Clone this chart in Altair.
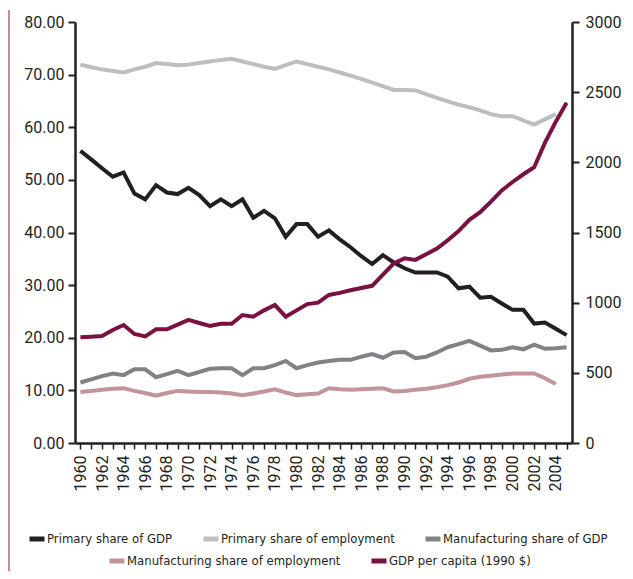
import altair as alt
import pandas as pd

years = list(range(1960, 2006))

primary_gdp = [55.5, 53.9, 52.2, 50.6, 51.4, 47.4, 46.3, 49.0, 47.6, 47.3,
               48.5, 47.1, 45.0, 46.3, 45.0, 46.3, 42.8, 44.1, 42.7, 39.2,
               41.6, 41.6, 39.2, 40.4, 38.7, 37.2, 35.5, 34.0, 35.7, 34.3,
               33.2, 32.4, 32.4, 32.4, 31.6, 29.4, 29.7, 27.6, 27.8, 26.5,
               25.3, 25.3, 22.7, 22.9, 21.7, 20.5]

primary_emp = [71.9, 71.4, 71.0, 70.7, 70.4, 71.0, 71.5, 72.2, 72.0, 71.8,
               71.9, 72.2, 72.5, 72.8, 73.0, 72.5, 72.0, 71.5, 71.1, 71.8,
               72.5, 72.0, 71.5, 71.0, 70.4, 69.8, 69.2, 68.5, 67.8, 67.1,
               67.1, 67.0, 66.3, 65.6, 64.9, 64.3, 63.8, 63.2, 62.5, 62.1,
               62.1, 61.3, 60.5, 61.5, 62.5]

manuf_gdp = [11.5, 12.1, 12.7, 13.2, 12.9, 14.0, 14.0, 12.5, 13.1, 13.7,
             12.9, 13.5, 14.1, 14.2, 14.2, 12.9, 14.2, 14.2, 14.8, 15.6,
             14.2, 14.8, 15.3, 15.6, 15.8, 15.8, 16.4, 16.9, 16.2, 17.2,
             17.3, 16.1, 16.4, 17.2, 18.2, 18.8, 19.4, 18.5, 17.6, 17.7,
             18.2, 17.8, 18.7, 17.9, 18.0, 18.2]

manuf_emp = [9.7, 9.9, 10.1, 10.3, 10.4, 9.9, 9.5, 9.0, 9.5, 9.9,
             9.8, 9.7, 9.7, 9.6, 9.4, 9.1, 9.4, 9.8, 10.2, 9.6,
             9.1, 9.25, 9.4, 10.4, 10.2, 10.1, 10.2, 10.3, 10.4, 9.8,
             9.9, 10.1, 10.3, 10.6, 11.0, 11.5, 12.2, 12.6, 12.8, 13.0,
             13.2, 13.2, 13.2, 12.3, 11.2]

gdp_pc = [753, 757, 762, 805, 841, 777, 760, 810, 810, 843,
          877, 855, 834, 850, 850, 912, 900, 945, 983, 900,
          945, 990, 1000, 1055, 1070, 1088, 1105, 1120, 1200, 1280,
          1316, 1305, 1345, 1385, 1445, 1510, 1590, 1645, 1720, 1800,
          1860, 1915, 1965, 2140, 2290, 2425]

row1_names = ["Primary share of GDP", "Primary share of employment", "Manufacturing share of GDP"]
row1_colors = ["#231f20", "#bcbec0", "#808285"]
row2_names = ["Manufacturing share of employment", "GDP per capita (1990 $)"]
row2_colors = ["#c4949b", "#7a1140"]

left_ticks = [0, 10, 20, 30, 40, 50, 60, 70, 80]
right_ticks = [0, 500, 1000, 1500, 2000, 2500, 3000]


def long(name, values):
    return pd.DataFrame({"year": years[:len(values)], "value": values, "series": name})


df_row1 = pd.concat([long(row1_names[0], primary_gdp),
                     long(row1_names[1], primary_emp),
                     long(row1_names[2], manuf_gdp)], ignore_index=True)
df_memp = long(row2_names[0], manuf_emp)
df_gdppc = long(row2_names[1], gdp_pc)

AXIS_FONT = "Roboto"
LEG_FONT = "DejaVu Sans Condensed"
INK = "#231f20"

x_enc = alt.X("year:Q",
              scale=alt.Scale(domain=[1959.5, 2005.5], nice=False, zero=False),
              axis=alt.Axis(values=years, title=None, labelAngle=270,
                            labelExpr="datum.value % 2 == 0 ? '' + datum.value : ''",
                            labelOverlap=False, labelFlush=False, tickSize=6,
                            tickWidth=1.5, labelPadding=6))

left_scale = alt.Scale(domain=[0, 80], nice=False, zero=True)


def left_axis():
    return alt.Axis(values=left_ticks, format=".2f", title=None, orient="left",
                    labelPadding=4)


def legend(x, y):
    return alt.Legend(title=None, orient="none", legendX=x, legendY=y,
                      direction="horizontal", symbolType="stroke",
                      symbolStrokeWidth=5, symbolSize=225,
                      labelFont=LEG_FONT, labelFontSize=13, labelLimit=0,
                      labelColor=INK, labelOffset=0, columnPadding=20)


row1_stroke = alt.Color("series:N",
                        scale=alt.Scale(domain=row1_names, range=row1_colors),
                        legend=legend(-48, 507))

row2_stroke = alt.Stroke("series:N",
                         scale=alt.Scale(domain=row2_names, range=row2_colors),
                         legend=legend(32, 529))

line_row1 = alt.Chart(df_row1).mark_line(strokeWidth=4, strokeJoin="miter").encode(
    x=x_enc,
    y=alt.Y("value:Q", scale=left_scale, axis=left_axis()),
    color=row1_stroke,
    detail="series:N",
)

line_memp = alt.Chart(df_memp).mark_line(strokeWidth=4, strokeJoin="miter").encode(
    x=x_enc,
    y=alt.Y("value:Q", scale=left_scale, axis=left_axis()),
    stroke=row2_stroke,
)

line_gdppc = alt.Chart(df_gdppc).mark_line(strokeWidth=4, strokeJoin="miter").encode(
    x=x_enc,
    y=alt.Y("value:Q", scale=alt.Scale(domain=[0, 3000], nice=False),
            axis=alt.Axis(values=right_ticks, format="d", title=None, orient="right",
                          labelPadding=6)),
    stroke=row2_stroke,
)

border = alt.Chart(pd.DataFrame({"k": [0]})).mark_rule(color="#a33a62", strokeWidth=1.2).encode(
    x=alt.value(-66), y=alt.value(-12), y2=alt.value(560)
)

left_layer = alt.layer(line_row1, line_memp, border)

chart = alt.layer(left_layer, line_gdppc).resolve_scale(y="independent").properties(
    width=497, height=421,
    autosize=alt.AutoSizeParams(type="none"),
    padding={"left": 67, "top": 14, "right": 53, "bottom": 128},
).configure_view(stroke=None).configure_axis(
    grid=False, domainColor=INK, domainWidth=2.5, tickColor=INK, tickWidth=2,
    tickSize=7, labelColor=INK, labelFont=AXIS_FONT, labelFontSize=16,
)

chart.save("out.html", embed_options={"renderer": "svg", "actions": False})
